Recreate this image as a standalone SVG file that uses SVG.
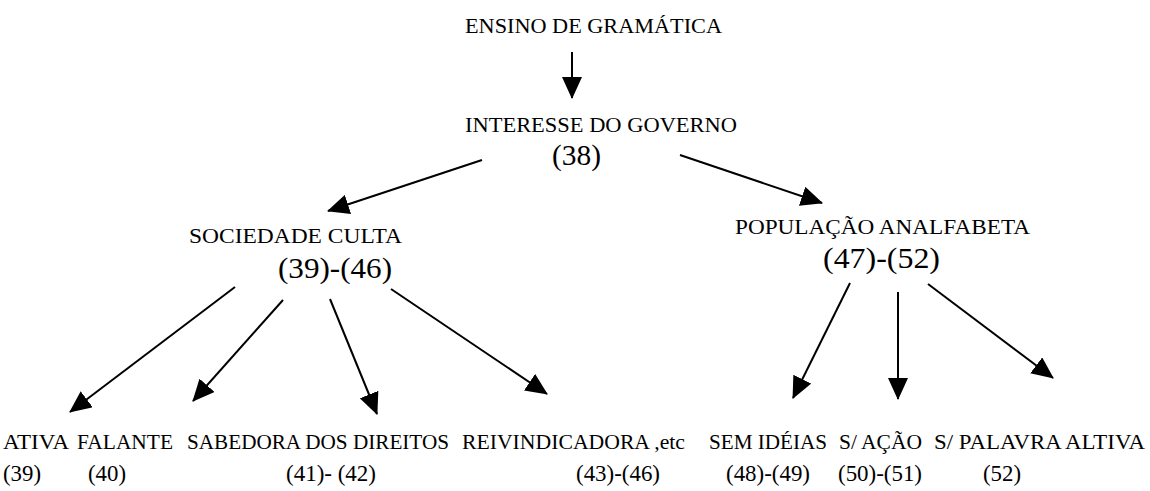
<svg xmlns="http://www.w3.org/2000/svg" width="1150" height="491" viewBox="0 0 1150 491">
<defs>
<style>
text{font-family:"Liberation Serif","Times New Roman",serif;fill:#000}
.t{font-size:22px}
.n{font-size:29px}
.b{font-size:22px}
.bn{font-size:23px}
.c line{stroke:#000;stroke-width:2;marker-end:url(#ah)}
</style>
<marker id="ah" viewBox="0 0 11 10" refX="10.5" refY="5" markerWidth="11" markerHeight="10" orient="auto" markerUnits="strokeWidth">
<path d="M0,0 L11,5 L0,10 z" fill="#000"/>
</marker>
</defs>
<rect width="1150" height="491" fill="#fff"/>
<g id="n-ensino"><text class="t" x="465" y="33" textLength="257" lengthAdjust="spacingAndGlyphs">ENSINO DE GRAMÁTICA</text></g>
<g id="n-interesse"><text class="t" x="465" y="132" textLength="272" lengthAdjust="spacingAndGlyphs">INTERESSE DO GOVERNO</text><text class="n" x="552" y="165" textLength="49" lengthAdjust="spacingAndGlyphs">(38)</text></g>
<g id="n-sociedade"><text class="t" x="189" y="243" textLength="213" lengthAdjust="spacingAndGlyphs">SOCIEDADE CULTA</text><text class="n" x="278" y="278" textLength="114" lengthAdjust="spacingAndGlyphs">(39)-(46)</text></g>
<g id="n-populacao"><text class="t" x="735" y="234" textLength="295" lengthAdjust="spacingAndGlyphs">POPULAÇÃO ANALFABETA</text><text class="n" x="823" y="268" textLength="117" lengthAdjust="spacingAndGlyphs">(47)-(52)</text></g>
<g id="n-ativa"><text class="b" x="3" y="449" textLength="66" lengthAdjust="spacingAndGlyphs">ATIVA</text><text class="bn" x="3" y="481" textLength="38" lengthAdjust="spacingAndGlyphs">(39)</text></g>
<g id="n-falante"><text class="b" x="77" y="449" textLength="96" lengthAdjust="spacingAndGlyphs">FALANTE</text><text class="bn" x="88" y="481" textLength="38" lengthAdjust="spacingAndGlyphs">(40)</text></g>
<g id="n-sabedora"><text class="b" x="187" y="449" textLength="262" lengthAdjust="spacingAndGlyphs">SABEDORA DOS DIREITOS</text><text class="bn" x="286" y="481" textLength="90" lengthAdjust="spacingAndGlyphs">(41)- (42)</text></g>
<g id="n-reivindicadora"><text class="b" x="462" y="449" textLength="223" lengthAdjust="spacingAndGlyphs">REIVINDICADORA ,etc</text><text class="bn" x="576" y="481" textLength="84" lengthAdjust="spacingAndGlyphs">(43)-(46)</text></g>
<g id="n-semideias"><text class="b" x="709" y="449" textLength="118" lengthAdjust="spacingAndGlyphs">SEM IDÉIAS</text><text class="bn" x="726" y="481" textLength="84" lengthAdjust="spacingAndGlyphs">(48)-(49)</text></g>
<g id="n-sacao"><text class="b" x="839" y="449" textLength="83" lengthAdjust="spacingAndGlyphs">S/ AÇÃO</text><text class="bn" x="838" y="481" textLength="84" lengthAdjust="spacingAndGlyphs">(50)-(51)</text></g>
<g id="n-spalavra"><text class="b" x="934" y="449" textLength="211" lengthAdjust="spacingAndGlyphs">S/ PALAVRA ALTIVA</text><text class="bn" x="983" y="481" textLength="38" lengthAdjust="spacingAndGlyphs">(52)</text></g>
<g id="connectors" class="c">
<line x1="572" y1="52" x2="572" y2="98"/>
<line x1="482" y1="160" x2="328" y2="211"/>
<line x1="680" y1="155" x2="822" y2="203"/>
<line x1="235" y1="287" x2="70" y2="412"/>
<line x1="283" y1="300" x2="193" y2="401"/>
<line x1="330" y1="299" x2="377" y2="414"/>
<line x1="391" y1="289" x2="547" y2="394"/>
<line x1="850" y1="283" x2="793" y2="398"/>
<line x1="898" y1="292" x2="898" y2="399"/>
<line x1="928" y1="284" x2="1053" y2="378"/>
</g>
</svg>
